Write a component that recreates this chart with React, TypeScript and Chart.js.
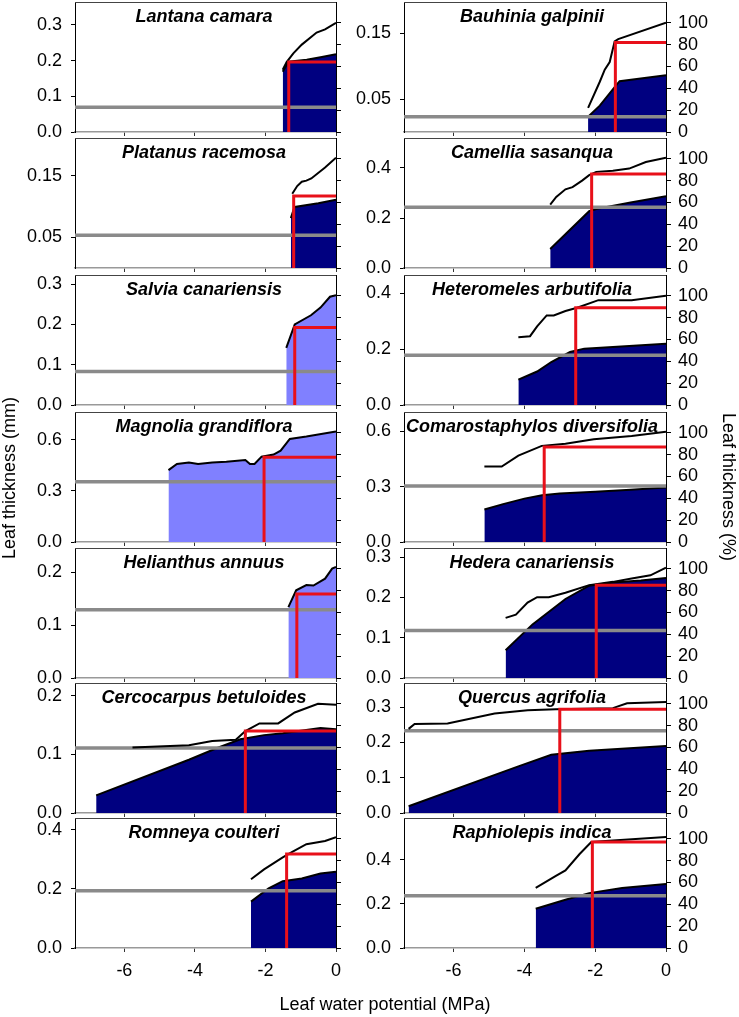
import React, { useEffect, useRef } from "react";
import { Chart, registerables } from "chart.js";
Chart.register(...registerables);

const FONT = "'Liberation Sans', Arial, sans-serif";
Chart.defaults.font.family = FONT;

// ---------- data ----------
const X_MIN = -7.4;
const xTicks = [-6, -4, -2, 0];
const pctTicks = [0, 20, 40, 60, 80, 100];
const PCT_MAX = 119;

const species = [
  "Lantana camara", "Bauhinia galpinii",
  "Platanus racemosa", "Camellia sasanqua",
  "Salvia canariensis", "Heteromeles arbutifolia",
  "Magnolia grandiflora", "Comarostaphylos diversifolia",
  "Helianthus annuus", "Hedera canariensis",
  "Cercocarpus betuloides", "Quercus agrifolia",
  "Romneya coulteri", "Raphiolepis indica",
];
const mmMax = [0.364, 0.197, 0.211, 0.52, 0.323, 0.466, 0.763, 0.704, 0.246, 0.3225, 0.222, 0.368, 0.44, 0.59];
const mmTicks = [
  [0, 0.1, 0.2, 0.3], [0.05, 0.15],
  [0.05, 0.15], [0, 0.2, 0.4],
  [0, 0.1, 0.2, 0.3], [0, 0.2, 0.4],
  [0, 0.3, 0.6], [0, 0.3, 0.6],
  [0, 0.1, 0.2], [0, 0.1, 0.2, 0.3],
  [0, 0.1, 0.2], [0, 0.1, 0.2, 0.3],
  [0, 0.2, 0.4], [0, 0.2, 0.4],
];
const mmDecimals = [1, 2, 2, 1, 1, 1, 1, 1, 1, 1, 1, 1, 1, 1];
const greyLevel = [0.069, 0.023, 0.053, 0.243, 0.083, 0.178, 0.353, 0.303, 0.129, 0.118, 0.111, 0.233, 0.194, 0.237];
const tlp = [-1.34, -1.43, -1.2, -2.1, -1.17, -2.55, -2.04, -3.44, -1.11, -1.97, -2.57, -3.0, -1.4, -2.08];
const tlpPct = [64, 82, 66, 86, 71, 89, 77.5, 87, 77, 85, 75, 95, 86, 97];
const lightFill = [false, false, false, false, true, false, true, false, true, false, false, false, false, false];

const lantanaArea = [[-1.51, 0.169], [-1.35, 0.197], [-0.83, 0.202], [-0.4, 0.21], [0, 0.218]];
const lantanaPct = [[-1.51, 57], [-1.4, 64], [-1.21, 72], [-0.97, 80], [-0.55, 91], [-0.31, 94], [0, 100]];
const bauhiniaArea = [[-2.2, 0.023], [-1.87, 0.04], [-1.45, 0.068], [-1.31, 0.077], [0, 0.086]];
const bauhiniaPct = [[-2.2, 22], [-1.87, 46], [-1.73, 57], [-1.59, 64], [-1.45, 83], [-1.35, 85], [0, 100]];
const platanusArea = [[-1.28, 0.081], [-1.2, 0.095], [-1.17, 0.099], [-0.5, 0.105], [0, 0.111]];
const platanusPct = [[-1.24, 68], [-1.1, 75], [-0.97, 79], [-0.84, 80], [-0.7, 82], [-0.31, 92], [0, 101]];
const camelliaArea = [[-3.27, 0.076], [-2.17, 0.227], [-1.97, 0.236], [-1.0, 0.262], [0, 0.287]];
const camelliaPct = [[-3.27, 58], [-3.1, 65], [-2.84, 72], [-2.64, 74], [-2.37, 80], [-2.17, 85], [-1.97, 88], [-1.5, 89], [-1.04, 91], [-0.57, 97], [0, 101]];
const salviaArea = [[-1.41, 0.142], [-1.17, 0.2], [-0.71, 0.223], [-0.44, 0.242], [-0.17, 0.269], [0, 0.273]];
const heteromelesArea = [[-4.17, 0.091], [-3.64, 0.12], [-3.24, 0.154], [-2.71, 0.19], [-2.31, 0.202], [-1.5, 0.208], [0, 0.22]];
const heteromelesPct = [[-4.17, 62], [-3.84, 63], [-3.64, 72], [-3.37, 82], [-3.17, 82], [-2.84, 86], [-2.51, 89], [-1.91, 96], [-0.97, 96], [0, 100]];
const magnoliaArea = [[-4.75, 0.422], [-4.51, 0.458], [-4.17, 0.467], [-3.91, 0.458], [-3.51, 0.467], [-3.11, 0.471], [-2.57, 0.481], [-2.44, 0.458], [-2.31, 0.458], [-2.11, 0.501], [-1.77, 0.513], [-1.57, 0.536], [-1.31, 0.605], [-0.84, 0.619], [0, 0.649]];
const comarostaphylosArea = [[-5.13, 0.176], [-4.6, 0.205], [-4.0, 0.235], [-3.5, 0.253], [-3.0, 0.262], [-2.0, 0.272], [-1.0, 0.283], [0, 0.295]];
const comarostaphylosPct = [[-5.13, 69], [-4.64, 69], [-4.17, 79], [-3.51, 88], [-2.84, 90], [-2.04, 94], [-0.97, 97], [0, 101]];
const helianthusArea = [[-1.35, 0.134], [-1.13, 0.166], [-0.84, 0.176], [-0.64, 0.175], [-0.31, 0.188], [-0.11, 0.207], [0, 0.21]];
const hederaArea = [[-4.53, 0.069], [-3.77, 0.133], [-2.84, 0.196], [-2.17, 0.229], [-1.5, 0.237], [-0.71, 0.242], [0, 0.248]];
const hederaPct = [[-4.53, 55], [-4.24, 58], [-3.91, 69], [-3.64, 74], [-3.31, 74], [-2.84, 78], [-2.17, 85], [-1.5, 88], [-0.97, 91], [-0.44, 94], [0, 101]];
const cercocarpusArea = [[-6.8, 0.03], [-4.17, 0.091], [-3.37, 0.111], [-2.71, 0.126], [-2.04, 0.133], [-1.51, 0.136], [-0.44, 0.145], [0, 0.143]];
const cercocarpusPct = [[-5.77, 60], [-4.17, 62], [-3.51, 66], [-2.84, 67], [-2.57, 75], [-2.17, 82], [-1.64, 82], [-1.17, 92], [-0.51, 100], [0, 99]];
const quercusArea = [[-7.27, 0.019], [-4.17, 0.132], [-3.24, 0.165], [-2.17, 0.176], [0, 0.19]];
const quercusPct = [[-7.27, 77], [-7.1, 81.5], [-6.17, 82], [-4.84, 91], [-3.91, 94], [-3.11, 95], [-1.5, 96], [-1.1, 100.5], [0, 101.5]];
const romneyaArea = [[-2.41, 0.157], [-1.91, 0.202], [-1.51, 0.226], [-0.97, 0.235], [-0.44, 0.252], [0, 0.258]];
const romneyaPct = [[-2.41, 63], [-2.04, 72], [-1.51, 83], [-1.24, 88], [-0.84, 95], [-0.31, 98], [0, 101.5]];
const raphiolepisArea = [[-3.68, 0.178], [-2.84, 0.219], [-2.17, 0.249], [-1.24, 0.272], [0, 0.29]];
const raphiolepisPct = [[-3.68, 55], [-3.11, 66], [-2.84, 71], [-2.44, 86], [-2.11, 97], [-1.5, 98.5], [0, 101.5]];

const areas = [
  lantanaArea, bauhiniaArea, platanusArea, camelliaArea, salviaArea, heteromelesArea,
  magnoliaArea, comarostaphylosArea, helianthusArea, hederaArea, cercocarpusArea,
  quercusArea, romneyaArea, raphiolepisArea,
];
const pcts = [
  lantanaPct, bauhiniaPct, platanusPct, camelliaPct, null, heteromelesPct,
  null, comarostaphylosPct, null, hederaPct, cercocarpusPct,
  quercusPct, romneyaPct, raphiolepisPct,
];

// ---------- layout ----------
const ROW_TOP = [2, 138, 275, 412, 548, 683, 818];
const PANEL_H = 130;
const PAD_TOP = 12;
const COL_LEFT = [0, 337];
const COL_W = [370, 402];
const AXIS_LEFT_W = [75, 67];
const AXIS_RIGHT_W = [34, 73];
const TITLE_CX = [204, 532];

const RED = "#e8101a";
const NAVY = "#000080";
const LIGHT = "#8080ff";
const GREY = "#8a8a8a";

const topFrame = {
  id: "topFrame",
  afterDatasetsDraw(chart: any) {
    const { ctx, chartArea: a } = chart;
    ctx.save();
    ctx.strokeStyle = "#444";
    ctx.lineWidth = 1;
    ctx.beginPath();
    ctx.moveTo(a.left, a.top + 0.5);
    ctx.lineTo(a.right, a.top + 0.5);
    ctx.stroke();
    ctx.restore();
  },
};

const pts = (arr: number[][]) => arr.map(([x, y]) => ({ x, y }));

function Panel({ idx }: { idx: number }) {
  const ref = useRef<HTMLCanvasElement>(null);
  const row = Math.floor(idx / 2);
  const col = idx % 2;
  const isBottom = row === 6;
  const axisH = isBottom ? 48 : 6;
  const w = COL_W[col];
  const h = PAD_TOP + PANEL_H + axisH;

  useEffect(() => {
    const datasets: any[] = [];
    datasets.push({
      data: [
        { x: tlp[idx], y: 0 },
        { x: tlp[idx], y: tlpPct[idx] },
        { x: 0, y: tlpPct[idx] },
      ],
      yAxisID: "y1",
      borderColor: RED,
      borderWidth: 3,
      borderJoinStyle: "miter",
      fill: false,
    });
    const p = pcts[idx];
    if (p) {
      datasets.push({
        data: pts(p),
        yAxisID: "y1",
        borderColor: "#000",
        borderWidth: 2,
        fill: false,
      });
    }
    datasets.push({
      data: [
        { x: X_MIN, y: greyLevel[idx] },
        { x: 0, y: greyLevel[idx] },
      ],
      yAxisID: "y",
      borderColor: GREY,
      borderWidth: 3.5,
      fill: false,
    });
    datasets.push({
      data: pts(areas[idx]),
      yAxisID: "y",
      borderColor: "#000",
      borderWidth: 2,
      backgroundColor: lightFill[idx] ? LIGHT : NAVY,
      fill: "origin",
    });

    const tickFont = { family: FONT, size: 18 };
    const chart = new Chart(ref.current as HTMLCanvasElement, {
      type: "line",
      data: { datasets },
      plugins: [topFrame],
      options: {
        responsive: false,
        animation: false,
        events: [],
        layout: { padding: { top: PAD_TOP, left: 0, right: 0, bottom: 0 } },
        elements: { point: { radius: 0 }, line: { tension: 0 } },
        plugins: { legend: { display: false }, tooltip: { enabled: false } },
        scales: {
          x: {
            type: "linear",
            min: X_MIN,
            max: 0,
            z: 1,
            afterBuildTicks: (s: any) => {
              s.ticks = xTicks.map((v) => ({ value: v }));
            },
            afterFit: (s: any) => {
              s.height = axisH;
              s.paddingLeft = 0;
              s.paddingRight = 0;
            },
            ticks: {
              display: isBottom,
              font: tickFont,
              color: "#000",
              padding: 8,
              maxRotation: 0,
              autoSkip: false,
              callback: (v: any) => String(v),
            },
            grid: { display: true, drawOnChartArea: false, drawTicks: true, tickLength: 4, color: "#333" },
            border: { display: true, color: "#999", width: 1.5 },
          },
          y: {
            type: "linear",
            position: "left",
            min: 0,
            max: mmMax[idx],
            z: 1,
            afterBuildTicks: (s: any) => {
              s.ticks = mmTicks[idx].map((v) => ({ value: v }));
            },
            afterFit: (s: any) => {
              s.width = AXIS_LEFT_W[col];
              s.paddingTop = 0;
              s.paddingBottom = 0;
            },
            ticks: {
              font: tickFont,
              color: "#000",
              padding: 9,
              autoSkip: false,
              callback: (v: any) => Number(v).toFixed(mmDecimals[idx]),
            },
            grid: { display: true, drawOnChartArea: false, drawTicks: true, tickLength: 4, color: "#000" },
            border: { display: true, color: "#000", width: 1 },
          },
          y1: {
            type: "linear",
            position: "right",
            min: 0,
            max: PCT_MAX,
            z: 1,
            afterBuildTicks: (s: any) => {
              s.ticks = pctTicks.map((v) => ({ value: v }));
            },
            afterFit: (s: any) => {
              s.width = AXIS_RIGHT_W[col];
              s.paddingTop = 0;
              s.paddingBottom = 0;
            },
            ticks: {
              display: col === 1,
              font: tickFont,
              color: "#000",
              padding: 7,
              autoSkip: false,
              callback: (v: any) => String(v),
            },
            grid: { display: true, drawOnChartArea: false, drawTicks: true, tickLength: 5, color: "#000" },
            border: { display: true, color: "#000", width: 1 },
          },
        },
      } as any,
    });
    return () => chart.destroy();
  }, []);

  return (
    <>
      <canvas
        ref={ref}
        width={w}
        height={h}
        style={{
          position: "absolute",
          left: COL_LEFT[col],
          top: ROW_TOP[row] - PAD_TOP,
          width: w,
          height: h,
        }}
      />
      <div
        style={{
          position: "absolute",
          left: TITLE_CX[col] - 160,
          width: 320,
          top: ROW_TOP[row] + 4,
          height: 20,
          lineHeight: "20px",
          textAlign: "center",
          font: `italic bold 18px ${FONT}`,
          color: "#000",
          whiteSpace: "nowrap",
        }}
      >
        {species[idx]}
      </div>
    </>
  );
}

export default function App() {
  const axisTitle: React.CSSProperties = {
    position: "absolute",
    width: 300,
    height: 22,
    lineHeight: "22px",
    textAlign: "center",
    font: `18px ${FONT}`,
    color: "#000",
    whiteSpace: "nowrap",
  };
  return (
    <div
      style={{
        position: "absolute",
        left: 0,
        top: 0,
        width: 739,
        height: 1017,
        background: "#fff",
        overflow: "hidden",
      }}
    >
      {species.map((_, i) => (
        <Panel key={i} idx={i} />
      ))}
      <div style={{ ...axisTitle, left: 10 - 150, top: 478 - 11, transform: "rotate(-90deg)" }}>
        Leaf thickness (mm)
      </div>
      <div style={{ ...axisTitle, left: 728 - 150, top: 487 - 11, transform: "rotate(90deg)" }}>
        Leaf thickness (%)
      </div>
      <div style={{ ...axisTitle, left: 385 - 150, top: 1005 - 11 }}>Leaf water potential (MPa)</div>
    </div>
  );
}
